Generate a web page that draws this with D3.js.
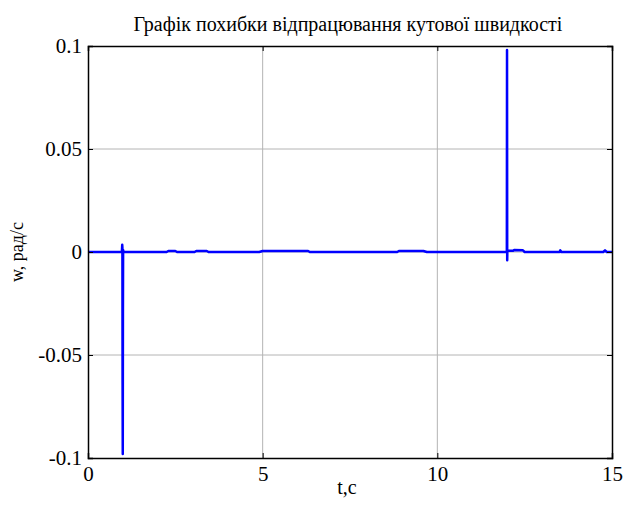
<!DOCTYPE html>
<html><head><meta charset="utf-8">
<script src="https://cdn.jsdelivr.net/npm/d3@7"></script>
<style>body{margin:0;background:#fff}svg{display:block}</style>
</head><body><svg id="c" width="624" height="509"></svg>
<script>
const FONT = "'Liberation Serif'";
const title = "Графік похибки відпрацювання кутової швидкості";
const xLabel = "t,c";
const yLabel = "w, рад/с";
const xTicks = [0, 5, 10, 15];
const yTicks = [-0.1, -0.05, 0, 0.05, 0.1];
const yTickLabels = ["-0.1", "-0.05", "0", "0.05", "0.1"];
const times = [0, 0.97, 0.98, 0.985, 0.99, 0.995, 1.0, 1.005, 1.01, 1.03,
  2.25, 2.3, 2.5, 2.55, 3.05, 3.1, 3.4, 3.45, 4.9, 5.0, 6.3, 6.35,
  8.85, 8.9, 9.6, 9.7, 11.99, 11.995, 12.0, 12.005, 12.02, 12.17, 12.2, 12.45, 12.5,
  13.5, 13.52, 13.55, 14.75, 14.8, 14.85, 15];
const werr = [0, 0, 0.0035, 0.002, -0.064, -0.098, -0.03, 0.001, 0.0005, 0,
  0, 0.0005, 0.0005, 0, 0, 0.0005, 0.0005, 0, 0, 0.0005, 0.0005, 0,
  0, 0.0005, 0.0005, 0, 0, 0.098, -0.004, 0.001, 0.0006, 0.0006, 0.001, 0.0008, 0,
  0, 0.0008, 0, 0, 0.0008, 0, 0];

const svg = d3.select("#c");
const m = {l: 88, r: 612, t: 46, b: 458};
const x = d3.scaleLinear().domain([0, 15]).range([m.l, m.r]);
const y = d3.scaleLinear().domain([-0.1, 0.1]).range([m.b, m.t]);

const g = svg.append("g");
g.selectAll(".gx").data(xTicks.slice(1, -1)).enter().append("line")
  .attr("x1", d => x(d)).attr("x2", d => x(d)).attr("y1", m.t).attr("y2", m.b)
  .attr("stroke", "#b4b4b4").attr("stroke-width", 1);
g.selectAll(".gy").data(yTicks.slice(1, -1)).enter().append("line")
  .attr("y1", d => y(d)).attr("y2", d => y(d)).attr("x1", m.l).attr("x2", m.r)
  .attr("stroke", "#b4b4b4").attr("stroke-width", 1);

const line = d3.line().x((d, i) => x(times[i])).y(d => y(d));
svg.append("path").datum(werr).attr("d", line).attr("fill", "none")
  .attr("stroke", "#0000ff").attr("stroke-width", 2.5).attr("stroke-linejoin", "round");

const fs = 21;
const ax = svg.append("g").attr("transform", `translate(0,${m.b})`)
  .call(d3.axisBottom(x).tickValues(xTicks).tickSize(-5).tickPadding(8).tickFormat(d3.format("d")));
const axT = svg.append("g").attr("transform", `translate(0,${m.t})`)
  .call(d3.axisTop(x).tickValues(xTicks).tickSize(-5).tickFormat(""));
const ay = svg.append("g").attr("transform", `translate(${m.l},0)`)
  .call(d3.axisLeft(y).tickValues(yTicks).tickSize(-5).tickPadding(6).tickFormat((d, i) => yTickLabels[i]));
const ayR = svg.append("g").attr("transform", `translate(${m.r},0)`)
  .call(d3.axisRight(y).tickValues(yTicks).tickSize(-5).tickFormat(""));
[ax, axT, ay, ayR].forEach(a => {
  a.select(".domain").attr("stroke", "#000").attr("stroke-width", 1.5);
  a.selectAll(".tick line").attr("stroke", "#000");
  a.selectAll("text").style("font-family", FONT).style("font-size", fs + "px").attr("fill", "#000");
});

svg.append("text").attr("x", 348).attr("y", 31).attr("text-anchor", "middle")
  .style("font-family", FONT).style("font-size", "20px").text(title);
svg.append("text").attr("x", 347).attr("y", 494).attr("text-anchor", "middle")
  .style("font-family", FONT).style("font-size", "20px").text(xLabel);
svg.append("text").attr("transform", `translate(23,252) rotate(-90)`).attr("text-anchor", "middle")
  .style("font-family", FONT).style("font-size", "18px").text(yLabel);
</script></body></html>
